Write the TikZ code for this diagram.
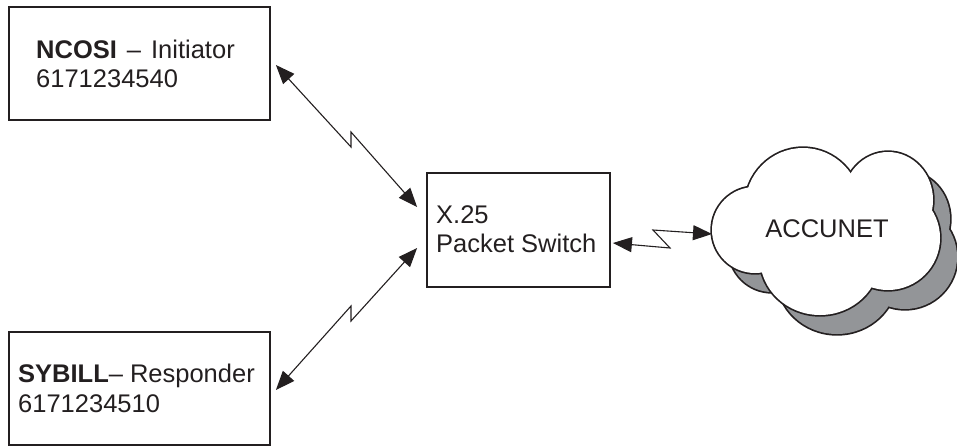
\documentclass[tikz,border=0pt]{standalone}
\usepackage{fontspec}
\setmainfont{Liberation Sans}
\usetikzlibrary{arrows.meta,calc}
\definecolor{shadowgray}{HTML}{939598}
\definecolor{ink}{HTML}{231F20}
\def\puffset{755/230/43/43, 803/207/58/59, 888/200/45/48,
    888/238/52/52, 820/258/60/57, 825/232/75/50}
\begin{document}
\begin{tikzpicture}[x=1pt,y=-1pt,
  boxnode/.style={draw=ink,line width=1.8pt,rectangle,inner sep=0pt},
  lbl/.style={anchor=base west,inner sep=0pt,text=ink,font=\fontsize{25.5}{29}\selectfont},
  link/.style={draw=ink,line width=1.1pt,line join=miter,
    {Triangle[length=19pt,width=15pt]}-{Triangle[length=19pt,width=15pt]}}]
\useasboundingbox (0,0) rectangle (957,445);

% boxes
\node[boxnode,minimum width=261pt,minimum height=113pt] (ncosi) at (139.5,63.5) {};
\node[boxnode,minimum width=183pt,minimum height=114pt] (ps) at (518.5,230) {};
\node[boxnode,minimum width=261pt,minimum height=113pt] (sybill) at (139.5,388.5) {};

% labels
\node[lbl] (ncosiA) at (36,58) {\textbf{NCOSI}\hspace{10pt}–\hspace{10pt}Initiator};
\node[lbl] (ncosiB) at (36,87) {6171234540};
\node[lbl] (psA) at (436,223) {X.25};
\node[lbl] (psB) at (436,252) {Packet Switch};
\node[lbl] (sybA) at (18,382) {\textbf{SYBILL}–\hspace{7pt}Responder};
\node[lbl] (sybB) at (18,412) {6171234510};

% cloud shadow
\begin{scope}[shift={(17,19)}]
  \foreach \cx/\cy/\rx/\ry in \puffset
    {\draw[ink,line width=3.4pt] (\cx,\cy) ellipse [x radius=\rx, y radius=\ry];}
  \foreach \cx/\cy/\rx/\ry in \puffset
    {\fill[shadowgray] (\cx,\cy) ellipse [x radius=\rx, y radius=\ry];}
\end{scope}
% cloud
\foreach \cx/\cy/\rx/\ry in \puffset
  {\draw[ink,line width=3.4pt] (\cx,\cy) ellipse [x radius=\rx, y radius=\ry];}
\foreach \cx/\cy/\rx/\ry in \puffset
  {\fill[white] (\cx,\cy) ellipse [x radius=\rx, y radius=\ry];}
\node[inner sep=0pt,text=ink,font=\fontsize{25.5}{29}\selectfont] (accunet) at (827,229) {ACCUNET};
\coordinate (cloudW) at (712,234);

% connector end points and zigzag corners
\coordinate (t1) at ($(ncosi.east)+(5,1.5)$);
\coordinate (t2) at ($(ps.west)+(-9,-23)$);
\coordinate (z1a) at (351,147);
\coordinate (z1b) at (351,132);
\coordinate (b1) at ($(sybill.east)+(5,1.5)$);
\coordinate (b2) at ($(ps.west)+(-9,18)$);
\coordinate (z2a) at (351,306);
\coordinate (z2b) at (351,321);
\coordinate (r1) at ($(ps.east)+(2,13)$);
\coordinate (z3a) at (670,248);
\coordinate (z3b) at (653,230);

\draw[link] (t1) -- (z1a) -- (z1b) -- (t2);
\draw[link] (b1) -- (z2a) -- (z2b) -- (b2);
\draw[link] (r1) -- (z3a) -- (z3b) -- (cloudW);
\end{tikzpicture}
\end{document}
